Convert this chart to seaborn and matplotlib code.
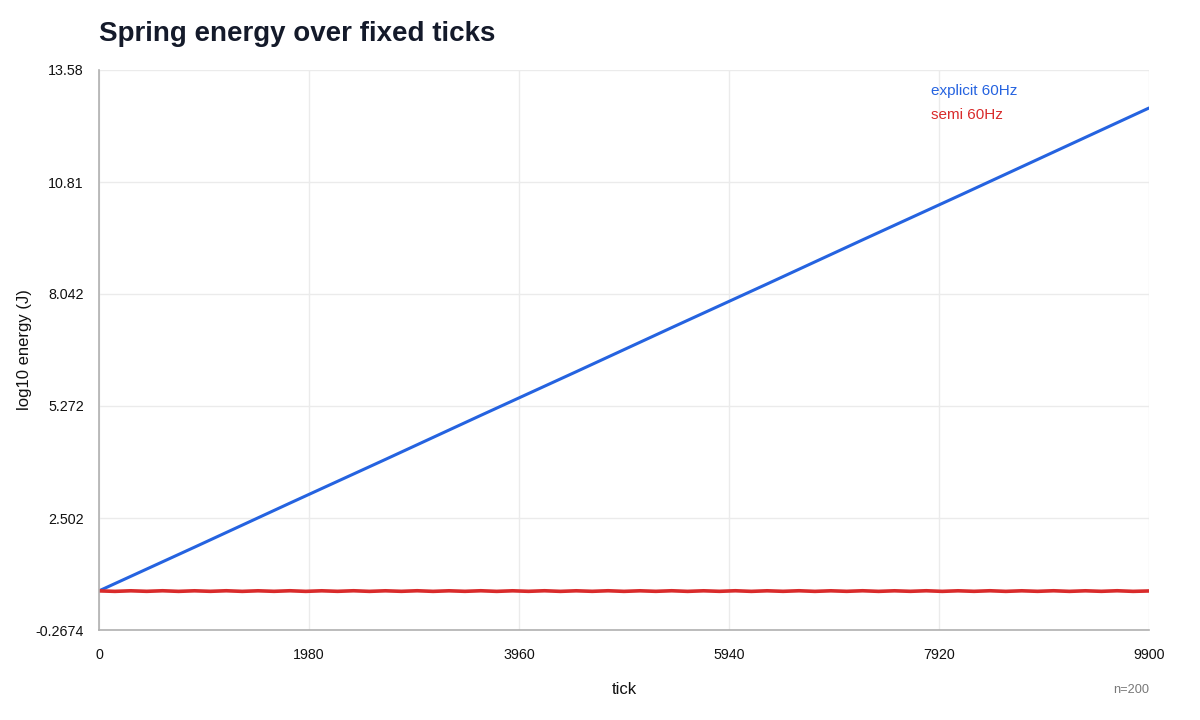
import numpy as np
import pandas as pd
import matplotlib
matplotlib.use("Agg")
import matplotlib.pyplot as plt
import seaborn as sns

# ---- data ----
explicit_ticks = [0, 900, 1800, 2700, 3600, 4500, 5400, 6300, 7200, 8100, 9000, 9900]
explicit_vals = [0.70, 1.78, 2.87, 3.95, 5.04, 6.12, 7.21, 8.29, 9.38, 10.46, 11.55, 12.64]

semi_ticks = list(range(0, 9901, 150))
semi_vals = [
    0.700, 0.688, 0.702, 0.689, 0.703, 0.688, 0.702, 0.689, 0.703, 0.688,
    0.702, 0.689, 0.703, 0.688, 0.702, 0.689, 0.703, 0.688, 0.702, 0.689,
    0.703, 0.688, 0.702, 0.689, 0.703, 0.688, 0.702, 0.689, 0.703, 0.688,
    0.702, 0.689, 0.703, 0.688, 0.702, 0.689, 0.703, 0.688, 0.702, 0.689,
    0.703, 0.688, 0.702, 0.689, 0.703, 0.688, 0.702, 0.689, 0.703, 0.688,
    0.702, 0.689, 0.703, 0.688, 0.702, 0.689, 0.703, 0.688, 0.702, 0.689,
    0.703, 0.688, 0.702, 0.689, 0.703, 0.688, 0.698,
]

series_names = ["explicit 60Hz", "semi 60Hz"]
x_tick_vals = [0, 1980, 3960, 5940, 7920, 9900]
y_tick_vals = [-0.2674, 2.502, 5.272, 8.042, 10.81, 13.58]
y_tick_labels = ["-0.2674", "2.502", "5.272", "8.042", "10.81", "13.58"]
sample_note = "n=200"

df = pd.concat([
    pd.DataFrame({"tick": explicit_ticks, "energy": explicit_vals, "series": series_names[0]}),
    pd.DataFrame({"tick": semi_ticks, "energy": semi_vals[:len(semi_ticks)], "series": series_names[1]}),
], ignore_index=True)

sns.set_theme(style="white")
plt.rcParams["font.family"] = ["Liberation Sans", "DejaVu Sans"]

colors = {series_names[0]: "#2563e0", series_names[1]: "#d92b2b"}

fig = plt.figure(figsize=(12, 7.2), dpi=100)
ax = fig.add_axes([0.0825, 0.125, 0.875, 0.7778])

sns.lineplot(data=df, x="tick", y="energy", hue="series", palette=colors,
             linewidth=2.2, legend=False, ax=ax, sort=True)
for line in ax.get_lines():
    line.set_solid_capstyle("round")
    line.set_solid_joinstyle("round")
ax.get_lines()[1].set_linewidth(2.6)

ax.set_xlim(0, 9900)
ax.set_ylim(-0.2674, 13.58)
ax.set_xticks(x_tick_vals)
ax.set_xticklabels([str(v) for v in x_tick_vals])
ax.set_yticks(y_tick_vals)
ax.set_yticklabels(y_tick_labels)
ax.tick_params(axis="both", length=0, labelsize=10.3, colors="#111111")
ax.tick_params(axis="x", pad=13)
ax.tick_params(axis="y", pad=11)

ax.grid(True, color="#ebebeb", linewidth=1)
ax.set_axisbelow(True)
for s in ["top", "right"]:
    ax.spines[s].set_visible(False)
for s in ["left", "bottom"]:
    ax.spines[s].set_color("#b0b0b0")
    ax.spines[s].set_linewidth(1.2)

ax.set_xlabel("tick", fontsize=12, color="#111111")
ax.set_ylabel("log10 energy (J)", fontsize=12, color="#111111")
ax.xaxis.set_label_coords(0.5, -0.092)
ax.yaxis.set_label_coords(-0.0635, 0.5)

fig.text(0.0825, 0.953, "Spring energy over fixed ticks", fontsize=20,
         fontweight="bold", color="#141a2a", va="center", ha="left")

ax.text(0.792, 0.963, series_names[0], transform=ax.transAxes, color=colors[series_names[0]],
        fontsize=11, va="center", ha="left")
ax.text(0.792, 0.920, series_names[1], transform=ax.transAxes, color=colors[series_names[1]],
        fontsize=11, va="center", ha="left")

fig.text(0.9575, 0.041, sample_note, fontsize=9.2, color="#777777", ha="right", va="center")

fig.savefig("out.png", dpi=100, facecolor="white")
